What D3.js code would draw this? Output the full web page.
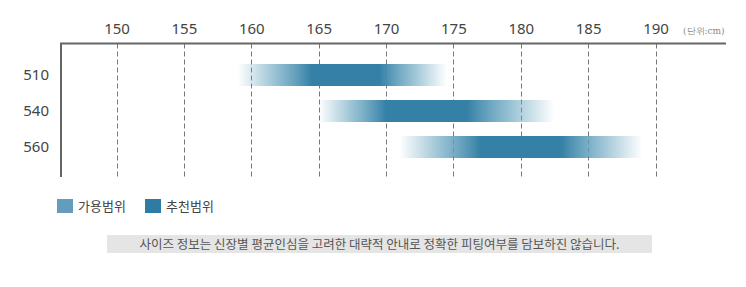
<!DOCTYPE html>
<html>
<head>
<meta charset="utf-8">
<script src="https://cdn.jsdelivr.net/npm/d3@7"></script>
<style>
  body { margin: 0; background: #fff; }
  text { font-family: "Noto Sans", "Noto Sans CJK KR", sans-serif; }
</style>
</head>
<body>
<div id="chart"></div>
<script>
// sizes and height ranges (cm)
var sizes = ["510", "540", "560"];
var availMin = [159, 165, 171];
var availMax = [174.5, 182.5, 189];
var recoMin = [164.5, 170, 177];
var recoMax = [169.5, 176, 183];
var ticks = [150, 155, 160, 165, 170, 175, 180, 185, 190];
var legendLabels = ["가용범위", "추천범위"];
var unitLabel = "(단위:cm)";
var note = "사이즈 정보는 신장별 평균인심을 고려한 대략적 안내로 정확한 피팅여부를 담보하진 않습니다.";

var lightColor = "#6aa6c0",
    darkColor = "#3480a6";

var svg = d3.select("#chart")
    .append("svg")
    .attr("width", 746)
    .attr("height", 287);

var x = d3.scaleLinear().domain([150, 190]).range([116.5, 655.5]);
var y = d3.scalePoint().domain(sizes).range([75, 147]);

var axisY = 43.5, axisBottom = 177;

// dashed grid
svg.append("g")
    .selectAll("line")
    .data(ticks)
    .join("line")
    .attr("x1", function (d) { return Math.round(x(d)) + 0.5; })
    .attr("x2", function (d) { return Math.round(x(d)) + 0.5; })
    .attr("y1", axisY)
    .attr("y2", axisBottom)
    .attr("stroke", "#777")
    .attr("stroke-dasharray", "5,3");

// gradients per row
var defs = svg.append("defs");
sizes.forEach(function (s, i) {
    var a0 = availMin[i], a1 = availMax[i];
    var span = a1 - a0;
    var f = function (v) { return ((v - a0) / span * 100) + "%"; };
    var g = defs.append("linearGradient")
        .attr("id", "grad" + s)
        .attr("x1", "0%").attr("x2", "100%");
    var stops = [
        [a0, lightColor, 0],
        [(a0 + (recoMin[i] - a0) * 0.55), lightColor, 0.75],
        [recoMin[i], darkColor, 1],
        [recoMax[i], darkColor, 1],
        [(recoMax[i] + (a1 - recoMax[i]) * 0.45), lightColor, 0.75],
        [a1, lightColor, 0]
    ];
    stops.forEach(function (st) {
        g.append("stop")
            .attr("offset", f(st[0]))
            .attr("stop-color", st[1])
            .attr("stop-opacity", st[2]);
    });
});

svg.append("g")
    .selectAll("rect")
    .data(sizes)
    .join("rect")
    .attr("x", function (d, i) { return x(availMin[i]); })
    .attr("width", function (d, i) { return x(availMax[i]) - x(availMin[i]); })
    .attr("y", function (d) { return y(d) - 11; })
    .attr("height", 22)
    .attr("fill", function (d) { return "url(#grad" + d + ")"; });

// top axis labels
var xAxis = svg.append("g")
    .attr("transform", "translate(0," + axisY + ")")
    .call(d3.axisTop(x).tickValues(ticks).tickSize(0).tickPadding(10));
xAxis.select(".domain").remove();
xAxis.selectAll("text")
    .style("font-family", "'Noto Sans', sans-serif")
    .style("font-size", "15px")
    .attr("fill", "#444");

// axis frame
svg.append("line")
    .attr("x1", 60).attr("x2", 726)
    .attr("y1", axisY).attr("y2", axisY)
    .attr("stroke", "#666").attr("stroke-width", 2);
svg.append("line")
    .attr("x1", 61).attr("x2", 61)
    .attr("y1", axisY).attr("y2", axisBottom)
    .attr("stroke", "#666").attr("stroke-width", 2);

svg.append("text")
    .attr("x", 683)
    .attr("y", 34)
    .style("font-family", "'DejaVu Serif', serif")
    .style("font-size", "9px")
    .attr("fill", "#888")
    .text(unitLabel);

// row labels
svg.append("g")
    .selectAll("text")
    .data(sizes)
    .join("text")
    .attr("x", 49)
    .attr("y", function (d) { return y(d); })
    .attr("dy", "0.35em")
    .attr("text-anchor", "end")
    .style("font-size", "15px")
    .attr("fill", "#444")
    .text(function (d) { return d; });

// legend
var legendColors = ["#649dbb", "#2e7ca4"];
var legendX = [57, 145];
var legend = svg.append("g")
    .selectAll("g")
    .data(legendLabels)
    .join("g")
    .attr("transform", function (d, i) { return "translate(" + legendX[i] + ",199)"; });
legend.append("rect")
    .attr("width", 16).attr("height", 14)
    .attr("fill", function (d, i) { return legendColors[i]; });
legend.append("text")
    .attr("x", 21)
    .attr("y", 12)
    .style("font-family", "'Noto Sans CJK KR', sans-serif")
    .style("font-size", "13px")
    .attr("fill", "#444")
    .text(function (d) { return d; });

// note box
svg.append("rect")
    .attr("x", 107).attr("y", 235)
    .attr("width", 545).attr("height", 18)
    .attr("fill", "#e5e5e5");
svg.append("text")
    .attr("x", 379.5)
    .attr("y", 248.5)
    .attr("text-anchor", "middle")
    .style("font-family", "'Noto Sans CJK KR', sans-serif")
    .style("font-size", "12.5px")
    .attr("fill", "#555")
    .text(note);
</script>
</body>
</html>
